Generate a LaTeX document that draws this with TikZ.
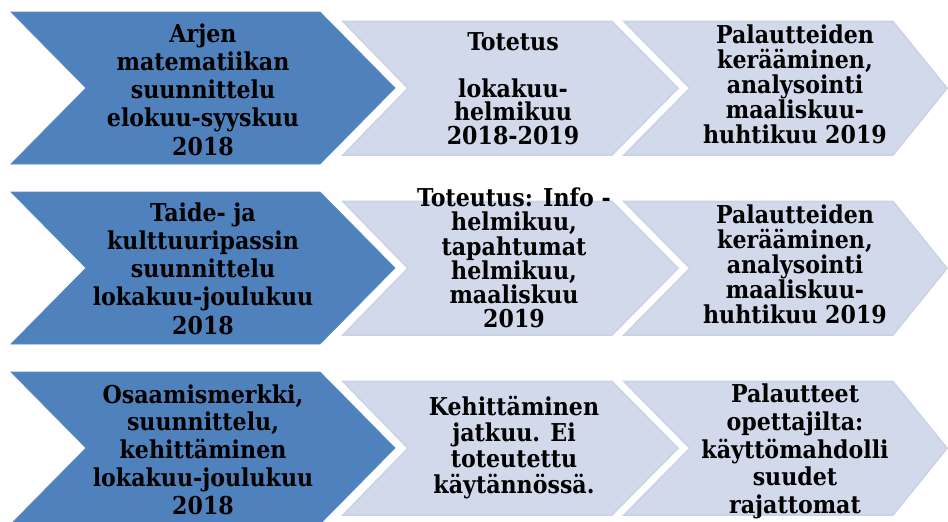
\documentclass[tikz,border=0pt]{standalone}
\usepackage{fontspec}
\setmainfont{DejaVu Serif Condensed}
\definecolor{darkchev}{HTML}{4F81BD}
\definecolor{darkedge}{HTML}{5A8AC3}
\definecolor{lightchev}{HTML}{D2D9EA}
\definecolor{lightedge}{HTML}{CAD2E5}
\newcommand\chevpath[6]{(#1,#5) -- (#2,#5) -- (#3,{(#5+#6)/2}) -- (#2,#6) -- (#1,#6) -- (#4,{(#5+#6)/2}) -- cycle}
\tikzset{
  darkstep/.style={fill=darkchev, draw=darkedge, line width=0.8pt, line join=miter},
  lightstep/.style={fill=lightchev, draw=lightedge, line width=1.6pt, line join=miter},
  bluetxt/.style={align=center, font=\bfseries\fontsize{24.6}{28.2}\selectfont, inner sep=0pt, text=black},
  greytxt/.style={align=center, font=\bfseries\fontsize{24.6}{25}\selectfont, inner sep=0pt, text=black}
}
\begin{document}
\begin{tikzpicture}[x=1pt,y=-1pt]
\useasboundingbox (0,0) rectangle (948,522);
\clip (0,0) rectangle (948,522);
% row 1
\path[darkstep] \chevpath{11}{320}{395}{86}{12}{164};
\path[lightstep] \chevpath{343}{612}{678}{408}{21.5}{155};
\path[lightstep] \chevpath{624}{893}{947}{690}{21.5}{155};
% row 2
\path[darkstep] \chevpath{11}{320}{395}{86}{192}{344};
\path[lightstep] \chevpath{343}{612}{678}{408}{201.5}{335};
\path[lightstep] \chevpath{624}{893}{947}{690}{201.5}{335};
% row 3
\path[darkstep] \chevpath{11}{320}{395}{86}{372}{524};
\path[lightstep] \chevpath{343}{612}{678}{408}{381.5}{515};
\path[lightstep] \chevpath{624}{893}{947}{690}{381.5}{515};
% texts row 1
\node[bluetxt] (a1) at (203,89.5) {Arjen\\matematiikan\\suunnittelu\\elokuu-syyskuu\\2018};
\node[greytxt, font=\bfseries\fontsize{24.6}{23.5}\selectfont] (b1) at (513,88.5) {Totetus\\[23.5pt]lokakuu-\\helmikuu\\2018-2019};
\node[greytxt] (c1) at (795,84) {Palautteiden\\kerääminen,\\analysointi\\maaliskuu-\\huhtikuu 2019};
% texts row 2
\node[bluetxt] (a2) at (203,268.5) {Taide- ja\\kulttuuripassin\\suunnittelu\\lokakuu-joulukuu\\2018};
\node[greytxt, font=\bfseries\fontsize{24.6}{24.3}\selectfont] (b2) at (514,258) {Toteutus: Info -\\helmikuu,\\tapahtumat\\helmikuu,\\maaliskuu\\2019};
\node[greytxt] (c2) at (795,264) {Palautteiden\\kerääminen,\\analysointi\\maaliskuu-\\huhtikuu 2019};
% texts row 3
\node[bluetxt, font=\bfseries\fontsize{24.6}{27.75}\selectfont] (a3) at (203,449.5) {Osaamismerkki,\\suunnittelu,\\kehittäminen\\lokakuu-joulukuu\\2018};
\node[greytxt, font=\bfseries\fontsize{24.6}{25.7}\selectfont] (b3) at (514,447.5) {Kehittäminen\\jatkuu. Ei\\toteutettu\\käytännössä.};
\node[greytxt, font=\bfseries\fontsize{24.6}{27.75}\selectfont] (c3) at (795,451.5) {Palautteet\\opettajilta:\\käyttömahdolli\\suudet\\rajattomat};
\end{tikzpicture}
\end{document}
